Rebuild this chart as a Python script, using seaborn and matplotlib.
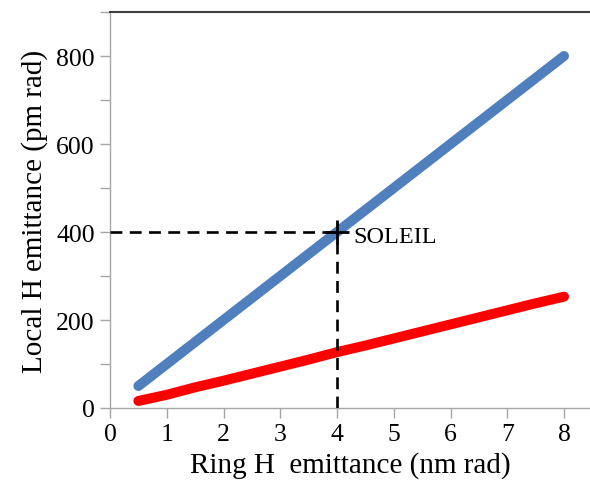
import matplotlib
matplotlib.use("Agg")
import matplotlib.pyplot as plt
import seaborn as sns
import pandas as pd

ring_emit = [0.5, 1.0, 1.5, 2.0, 2.5, 3.0, 3.5, 4.0, 4.5, 5.0, 5.5, 6.0, 6.5, 7.0, 7.5, 8.0]
local_blue = [50, 100, 150, 200, 250, 300, 350, 400, 450, 500, 550, 600, 650, 700, 750, 800]
local_red = [16, 30, 47, 62, 78, 94, 110, 127, 142, 158, 174, 190, 206, 222, 238, 253]
soleil_x = 4
soleil_y = 400
soleil_label = "SOLEIL"
x_label = "Ring H  emittance (nm rad)"
y_label = "Local H emittance (pm rad)"

sns.set_theme(style="white")
plt.rcParams['font.family'] = ['Liberation Serif', 'DejaVu Serif']

df = pd.DataFrame({"ring": ring_emit, "blue": local_blue, "red": local_red})

fig = plt.figure(figsize=(5.9, 4.85), dpi=100)
ax = fig.add_axes([110/590, 1-409/485, 1-110/590, (409-13)/485])

sns.lineplot(data=df, x="ring", y="blue", ax=ax, color="#4F7FBD", lw=7.2,
             solid_capstyle="round", zorder=3)
sns.lineplot(data=df, x="ring", y="red", ax=ax, color="#FF0000", lw=7.2,
             solid_capstyle="round", zorder=3)

ax.plot([0, soleil_x], [soleil_y, soleil_y], color="black", lw=1.9,
        dashes=(4.5, 2.8), zorder=4)
ax.plot([soleil_x, soleil_x], [0, soleil_y], color="black", lw=1.9,
        dashes=(4.5, 2.8), zorder=4)
ax.plot([soleil_x], [soleil_y], marker="+", ms=17, mew=2.0, color="black", zorder=5)
ax.text(soleil_x + 0.28, soleil_y - 10, soleil_label, fontsize=17.5, va="center",
        ha="left", color="black")

ax.set_xlim(0, 480/56.75)
ax.set_ylim(0, 900)
ax.set_yticks([0, 200, 400, 600, 800])
ax.set_yticks([100, 300, 500, 700, 900], minor=True)
ax.set_xticks(range(0, 9))

ax.tick_params(axis="both", which="both", direction="out", color="#A6A6A6",
               width=1.0, length=7, labelsize=18.5, labelcolor="black", pad=4)
ax.tick_params(left=True, bottom=True, which="both")

for s in ["left", "bottom"]:
    ax.spines[s].set_color("#A6A6A6")
    ax.spines[s].set_linewidth(1.0)
ax.spines["top"].set_color("#404040")
ax.spines["top"].set_linewidth(1.5)
ax.spines["right"].set_visible(False)

ax.set_xlabel(x_label, fontsize=21, color="black", labelpad=4)
ax.set_ylabel(y_label, fontsize=21, color="black", labelpad=6)

fig.savefig("out.png", dpi=100)
